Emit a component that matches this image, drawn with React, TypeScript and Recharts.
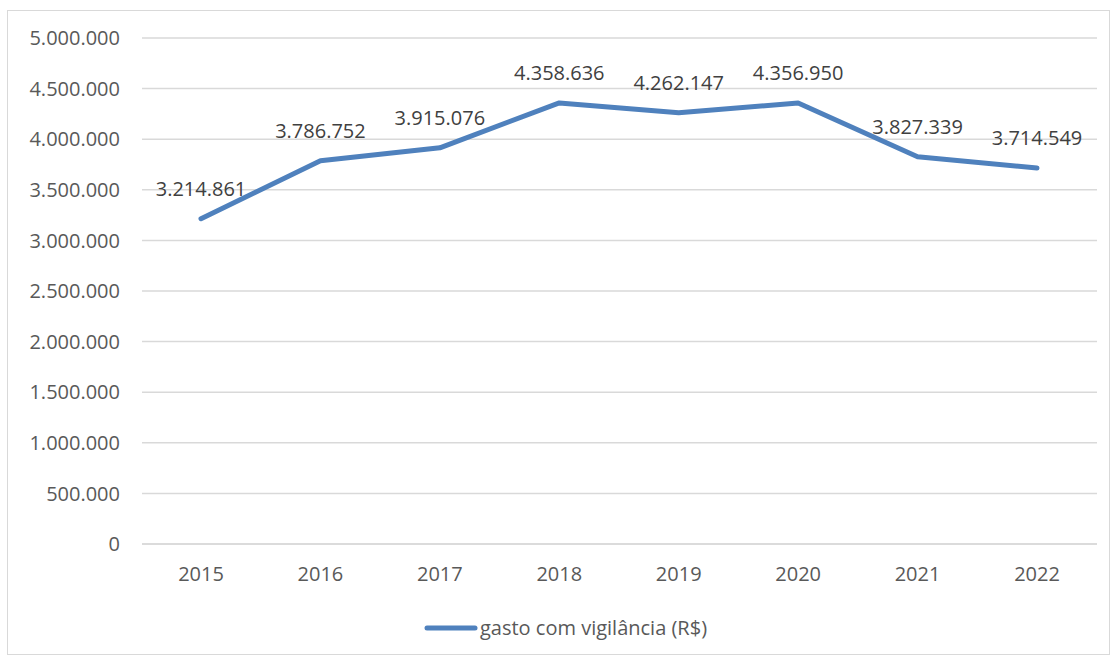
import {
  CartesianGrid,
  LabelList,
  Legend,
  Line,
  LineChart,
  XAxis,
  YAxis,
} from "recharts";

const years = ["2015", "2016", "2017", "2018", "2019", "2020", "2021", "2022"];
const gastoVigilancia = [
  3214861, 3786752, 3915076, 4358636, 4262147, 4356950, 3827339, 3714549,
];
const yTicks = [
  0, 500000, 1000000, 1500000, 2000000, 2500000, 3000000, 3500000, 4000000,
  4500000, 5000000,
];
const seriesName = "gasto com vigilância (R$)";

const FONT = "'Open Sans', 'DejaVu Sans', sans-serif";
const LINE_COLOR = "#4f81bd";

const chartData = years.map((year, i) => ({
  year,
  gasto: gastoVigilancia[i],
}));

function fmt(v: number): string {
  return String(Math.round(v)).replace(/\B(?=(\d{3})+(?!\d))/g, ".");
}

function renderLegend() {
  return (
    <div
      style={{
        display: "flex",
        justifyContent: "center",
        alignItems: "center",
        fontFamily: FONT,
        fontSize: 20,
        color: "#595959",
      }}
    >
      <svg width={54} height={10} style={{ marginRight: 2, marginLeft: 26 }}>
        <line
          x1={3}
          y1={5}
          x2={51}
          y2={5}
          stroke={LINE_COLOR}
          strokeWidth={5}
          strokeLinecap="round"
        />
      </svg>
      <span>{seriesName}</span>
    </div>
  );
}

export default function App() {
  return (
    <div
      style={{
        position: "absolute",
        left: 0,
        top: 0,
        width: 1114,
        height: 657,
        background: "#fff",
      }}
    >
      <div
        style={{
          position: "absolute",
          left: 7,
          top: 10,
          width: 1103,
          height: 645,
          border: "1px solid #d9d9d9",
          boxSizing: "border-box",
        }}
      >
        <LineChart
          width={1101}
          height={643}
          data={chartData}
          margin={{ top: 27, right: 12, left: 0, bottom: 20 }}
        >
          <CartesianGrid vertical={false} stroke="#d9d9d9" strokeWidth={1.5} />
          <XAxis
            dataKey="year"
            tick={{ fontSize: 20, fill: "#595959", fontFamily: FONT }}
            tickLine={false}
            axisLine={{ stroke: "#d9d9d9", strokeWidth: 1.5 }}
            tickSize={0}
            tickMargin={23}
            height={63}
            padding={{ left: 59, right: 60 }}
          />
          <YAxis
            domain={[0, 5000000]}
            ticks={yTicks}
            tickFormatter={fmt}
            tick={{ fontSize: 20, fill: "#595959", fontFamily: FONT }}
            tickLine={false}
            axisLine={false}
            tickSize={0}
            tickMargin={22}
            width={134}
            interval={0}
          />
          <Legend
            verticalAlign="bottom"
            content={renderLegend}
            wrapperStyle={{ bottom: 13 }}
          />
          <Line
            type="linear"
            dataKey="gasto"
            name={seriesName}
            stroke={LINE_COLOR}
            strokeWidth={5}
            strokeLinecap="round"
            strokeLinejoin="round"
            dot={false}
            activeDot={false}
            isAnimationActive={false}
          >
            <LabelList
              dataKey="gasto"
              position="top"
              offset={23}
              formatter={(v: any) => fmt(Number(v))}
              style={{ fontSize: 20, fill: "#404040", fontFamily: FONT }}
            />
          </Line>
        </LineChart>
      </div>
    </div>
  );
}
